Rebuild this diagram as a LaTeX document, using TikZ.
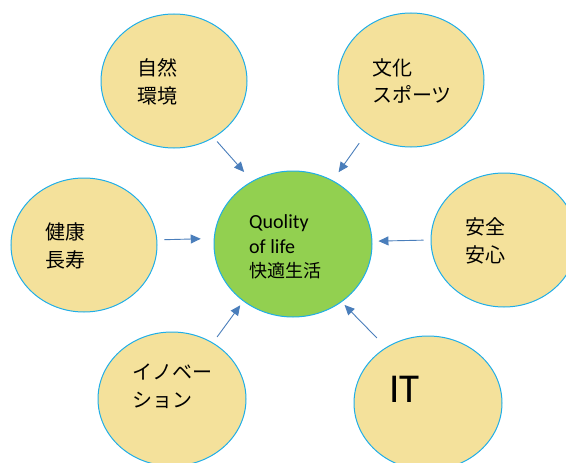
\documentclass[tikz,border=0pt]{standalone}
\usepackage{fontspec}
\setmainfont{Carlito}
\newfontfamily\jpfont{Noto Sans CJK JP}
\usetikzlibrary{shapes.geometric,arrows.meta}
\definecolor{ellfill}{HTML}{F4E19B}
\definecolor{ellline}{HTML}{1FAEE8}
\definecolor{qolgreen}{HTML}{92D050}
\definecolor{arrblue}{HTML}{4A7EBB}
\begin{document}
\begin{tikzpicture}[x=1pt,y=-1pt,
  factor/.style={ellipse,draw=ellline,line width=1pt,fill=ellfill,inner sep=0pt,minimum width=146pt,minimum height=134pt},
  goal/.style={ellipse,draw=ellline,line width=1pt,fill=qolgreen,inner sep=0pt,minimum width=158pt,minimum height=146pt},
  jtxt/.style={anchor=west,align=left,inner sep=0pt,font=\jpfont\fontsize{20}{27.5}\selectfont},
  link/.style={draw=arrblue,line width=0.9pt,-{Triangle[length=10pt,width=9pt]}}]
\useasboundingbox (0,0) rectangle (566,463);
\node[factor] (env) at (174,81) {};
\node[factor] (cul) at (411,80) {};
\node[factor] (hea) at (84,245) {};
\node[factor] (saf) at (504,240) {};
\node[factor,minimum width=148pt] (inn) at (172,399) {};
\node[factor,minimum width=148pt] (it) at (428,403) {};
\node[goal] (qol) at (293,244) {};
\node[jtxt] (envt) at (137,82) {自然\\環境};
\node[jtxt] (cult) at (372,81) {文化\\スポーツ};
\node[jtxt] (heat) at (45,246) {健康\\長寿};
\node[jtxt] (saft) at (465,241) {安全\\安心};
\node[jtxt] (innt) at (132,386) {イノベー\\ション};
\node[anchor=west,inner sep=0pt,font=\fontsize{41}{41}\selectfont] (itt) at (389,389) {IT};
\node[anchor=west,align=left,inner sep=0pt,font=\fontsize{20}{24.5}\selectfont] (qolt) at (249,247) {Quolity\\of life\\{\jpfont\fontsize{18}{24.5}\selectfont 快適生活}};
\foreach \n/\a/\b/\s/\e in {env/-55.5/123.7/5/12,cul/230.5/58.6/12/10,hea/4.3/176.9/7/13,saf/180/2.7/7/6,inn/54.6/229/7/5,it/127.1/-50.7/13/4}
  \draw[link,shorten <=\s pt,shorten >=\e pt] (\n.\a) -- (qol.\b);
\end{tikzpicture}
\end{document}
